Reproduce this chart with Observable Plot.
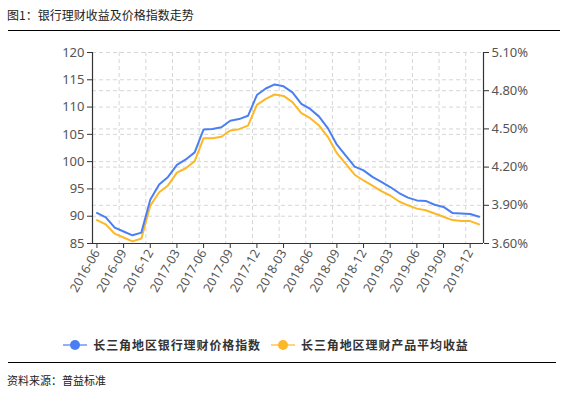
<!DOCTYPE html>
<html><head><meta charset="utf-8">
<script src="https://cdn.jsdelivr.net/npm/d3@7"></script>
<script src="https://cdn.jsdelivr.net/npm/@observablehq/plot@0.6"></script>
<style>
body{margin:0;background:#fff;font-family:"Noto Sans CJK SC","Noto Sans",sans-serif;}
#wrap{position:relative;width:562px;height:394px;overflow:hidden;}
#title{position:absolute;left:7px;top:6px;font-size:12px;color:#222;}
#topline{position:absolute;left:8px;top:30px;width:552px;height:0;border-top:1.5px solid #000;}
#chart{position:absolute;left:0;top:33px;}
#legend{position:absolute;left:-15px;top:336px;width:562px;display:flex;justify-content:center;align-items:center;font-family:"Noto Sans CJK SC",sans-serif;font-weight:bold;font-size:12px;letter-spacing:0.9px;color:#333;}
#legend .item{display:flex;align-items:center;margin:0 5px;}
#legend svg{margin-right:6px;}
#botline{position:absolute;left:8px;top:362px;width:548px;height:0;border-top:1.5px solid #000;}
#source{position:absolute;left:7px;top:372px;font-size:11px;color:#222;}
</style></head>
<body>
<div id="wrap">
  <div id="title">图1：银行理财收益及价格指数走势</div>
  <div id="topline"></div>
  <div id="chart"></div>
  <div id="legend"></div>
  <div id="botline"></div>
  <div id="source">资料来源：普益标准</div>
</div>
<script>
const months = [
  "2016-06","2016-07","2016-08","2016-09","2016-10","2016-11","2016-12",
  "2017-01","2017-02","2017-03","2017-04","2017-05","2017-06","2017-07","2017-08","2017-09","2017-10","2017-11","2017-12",
  "2018-01","2018-02","2018-03","2018-04","2018-05","2018-06","2018-07","2018-08","2018-09","2018-10","2018-11","2018-12",
  "2019-01","2019-02","2019-03","2019-04","2019-05","2019-06","2019-07","2019-08","2019-09","2019-10","2019-11","2019-12",
  "2020-01"
];
// 长三角地区银行理财价格指数 (left axis)
const priceIndex = [
  90.6,89.8,87.9,87.2,86.5,87.0,93.0,95.8,97.2,99.4,100.4,101.7,
  105.9,106.0,106.3,107.5,107.8,108.4,112.2,113.4,114.15,113.8,112.7,110.6,
  109.65,108.25,106.1,103.1,101.1,99.1,98.4,97.2,96.3,95.35,94.25,93.4,
  92.9,92.8,92.1,91.7,90.6,90.5,90.4,89.9
];
// 长三角地区理财产品平均收益 (%, right axis)
const avgYield = [
  3.784,3.750,3.677,3.647,3.617,3.639,3.896,4.003,4.056,4.157,4.191,4.247,
  4.427,4.427,4.438,4.487,4.498,4.526,4.689,4.736,4.770,4.759,4.710,4.624,
  4.584,4.526,4.436,4.309,4.226,4.140,4.095,4.054,4.011,3.977,3.930,3.900,
  3.874,3.861,3.836,3.810,3.784,3.776,3.776,3.750
];
const leftTicks = [85,90,95,100,105,110,115,120];
const rightTicks = [3.6,3.9,4.2,4.5,4.8,5.1];
const seriesNames = ["长三角地区银行理财价格指数","长三角地区理财产品平均收益"];
const colors = ["#4A7FF3","#FDB827"];

const yMin = 85, yMax = 120, rMin = 3.6, rMax = 5.1;
const toLeft = p => yMin + (p - rMin) / (rMax - rMin) * (yMax - yMin);
const fromLeft = v => rMin + (v - yMin) / (yMax - yMin) * (rMax - rMin);

const idx = months.map((m, i) => i);
const xLo = -0.5, xHi = months.length - 0.5;
const xTicks = idx.filter(i => i % 3 === 0);
const xGrid = xTicks.filter(i => i + 2.5 < xHi).map(i => i + 2.5);

const data1 = months.map((m, i) => ({i, v: priceIndex[i]}));
const data2 = months.map((m, i) => ({i, v: toLeft(avgYield[i])}));

const gridStyle = {stroke: "#d6d6d6", strokeDasharray: "4,3", strokeWidth: 1};

const chart = Plot.plot({
  width: 562,
  height: 268,
  marginLeft: 92,
  marginRight: 79,
  marginTop: 19,
  marginBottom: 58,
  style: {fontFamily: "'Noto Sans', 'DejaVu Sans', sans-serif", fontSize: "12px", color: "#555", background: "transparent"},
  x: {type: "linear", domain: [xLo, xHi]},
  y: {domain: [yMin, yMax]},
  marks: [
    Plot.ruleY(leftTicks.filter(t => t > yMin), {...gridStyle}),
    Plot.ruleY(rightTicks.filter(t => t > rMin && t < rMax).map(toLeft), {...gridStyle}),
    Plot.ruleX(xGrid, {...gridStyle}),
    Plot.axisY({ticks: leftTicks, anchor: "left", tickSize: 5, tickPadding: 3, label: null, stroke: "#333", fill: "#555", fontSize: 13}),
    Plot.axisY({ticks: rightTicks.map(toLeft), anchor: "right", tickSize: 5, tickPadding: 3, label: null,
      tickFormat: v => fromLeft(v).toFixed(2) + "%", stroke: "#333", fill: "#555", fontSize: 13}),
    Plot.axisX({ticks: xTicks, tickFormat: i => months[i], tickSize: 5, tickRotate: -60, label: null, stroke: "#333", fill: "#555", fontSize: 12.5, tickPadding: 2}),
    Plot.ruleX([xLo], {stroke: "#333", strokeWidth: 1.2}),
    Plot.ruleX([xHi], {stroke: "#333", strokeWidth: 1.2}),
    Plot.ruleY([yMin], {stroke: "#333", strokeWidth: 1.2}),
    Plot.line(data2, {x: "i", y: "v", stroke: colors[1], strokeWidth: 2}),
    Plot.line(data1, {x: "i", y: "v", stroke: colors[0], strokeWidth: 2})
  ]
});
document.getElementById("chart").appendChild(chart);

const legend = document.getElementById("legend");
seriesNames.forEach((name, k) => {
  const item = document.createElement("div");
  item.className = "item";
  item.innerHTML = `<svg width="24" height="12"><line x1="0" y1="6" x2="24" y2="6" stroke="${colors[k]}" stroke-opacity="0.6" stroke-width="2"/><circle cx="12" cy="6" r="5" fill="${colors[k]}"/></svg><span>${name}</span>`;
  legend.appendChild(item);
});
</script>
</body></html>
